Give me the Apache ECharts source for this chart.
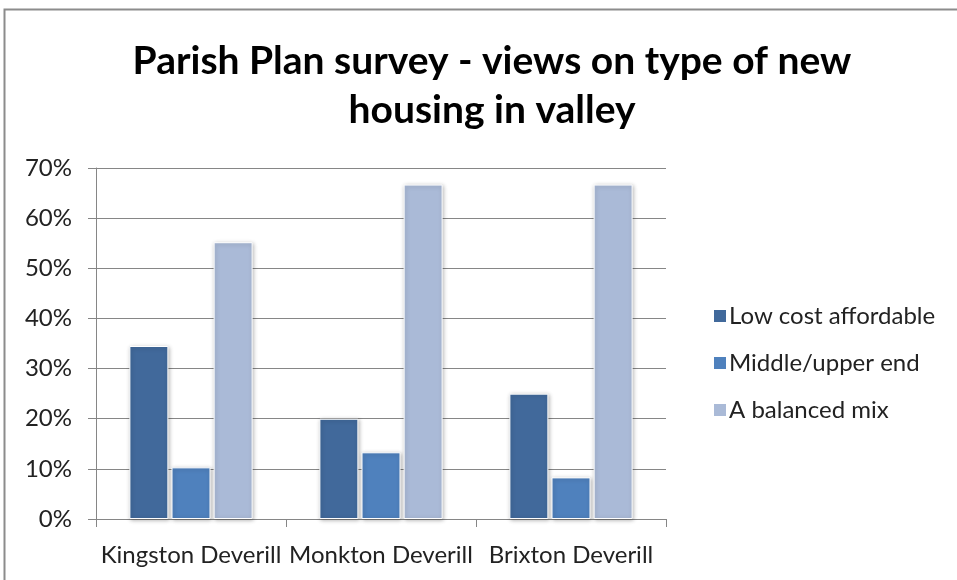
<!DOCTYPE html>
<html>
<head>
<meta charset="utf-8">
<script src="https://cdn.jsdelivr.net/npm/echarts@6/dist/echarts.min.js"></script>
<style>
  html, body { margin: 0; padding: 0; background: #fff; }
  #chart { width: 957px; height: 580px; }
</style>
</head>
<body>
<div id="chart"></div>
<script>
// Survey results: share of respondents (%) preferring each housing type
const villages = ['Kingston Deverill', 'Monkton Deverill', 'Brixton Deverill'];
const lowCost = [34.5, 20.0, 25.0];
const middleUpper = [10.3, 13.3, 8.3];
const balancedMix = [55.2, 66.7, 66.7];
const seriesNames = ['Low cost affordable', 'Middle/upper end', 'A balanced mix'];
const yTicks = { min: 0, max: 70, step: 10 };

const FONT = 'Lato, "Open Sans", sans-serif';
const colors = ['#41699b', '#4f81bd', '#aabad7'];

const barStyle = (c) => ({
  color: c,
  borderColor: '#ffffff',
  borderWidth: 1,
  shadowColor: 'rgba(0,0,0,0.28)',
  shadowBlur: 4,
  shadowOffsetX: 1,
  shadowOffsetY: 1
});

const chart = echarts.init(document.getElementById('chart'), null, { renderer: 'canvas' });

chart.setOption({
  animation: false,
  backgroundColor: '#ffffff',
  color: colors,
  title: {
    text: 'Parish Plan survey - views on type of new\nhousing in valley',
    left: 487,
    textAlign: 'center',
    top: 32,
    textStyle: {
      fontFamily: FONT,
      fontWeight: 'bold',
      fontSize: 39,
      lineHeight: 49,
      color: '#000000'
    }
  },
  graphic: [{
    type: 'rect',
    shape: { x: 4.5, y: 9.5, width: 1000, height: 700 },
    style: { fill: 'none', stroke: '#8c8c8c', lineWidth: 2 },
    silent: true
  }],
  legend: {
    orient: 'vertical',
    left: 707,
    top: 299,
    itemWidth: 14,
    itemHeight: 14,
    itemGap: 23,
    icon: 'rect',
    data: seriesNames,
    textStyle: { fontFamily: FONT, fontSize: 24, color: '#222222', padding: [0, 0, 0, -3] }
  },
  grid: { left: 96, right: 291, top: 168, bottom: 61, containLabel: false },
  xAxis: {
    type: 'category',
    data: villages,
    axisLine: { show: true, lineStyle: { color: '#868686', width: 1 } },
    axisTick: { show: true, alignWithLabel: false, length: 8, lineStyle: { color: '#868686' } },
    axisLabel: { fontFamily: FONT, fontSize: 24, color: '#222222', margin: 24, interval: 0 }
  },
  yAxis: {
    type: 'value',
    min: yTicks.min,
    max: yTicks.max,
    interval: yTicks.step,
    axisLine: { show: true, lineStyle: { color: '#868686', width: 1 } },
    axisTick: { show: true, length: 8, lineStyle: { color: '#868686' } },
    splitLine: { show: true, lineStyle: { color: '#868686', width: 1 } },
    axisLabel: { fontFamily: FONT, fontSize: 24, color: '#222222', margin: 24, formatter: '{value}%' }
  },
  series: [
    { name: seriesNames[0], type: 'bar', data: lowCost, barWidth: 39, barGap: '8%', itemStyle: barStyle(colors[0]) },
    { name: seriesNames[1], type: 'bar', data: middleUpper, barWidth: 39, barGap: '8%', itemStyle: barStyle(colors[1]) },
    { name: seriesNames[2], type: 'bar', data: balancedMix, barWidth: 39, barGap: '8%', itemStyle: barStyle(colors[2]) }
  ]
});
</script>
</body>
</html>
